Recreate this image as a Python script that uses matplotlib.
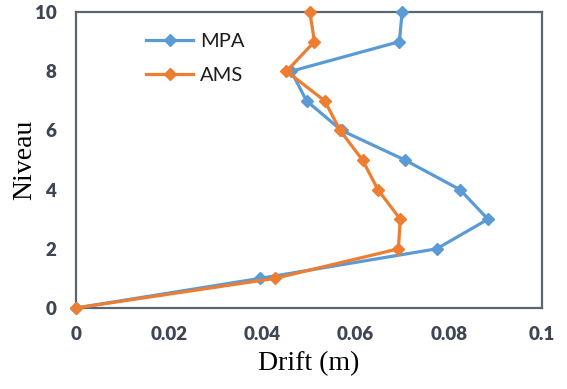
import matplotlib
matplotlib.use("Agg")
import matplotlib.pyplot as plt

# Storey levels and inter-storey drift (m) for the two analysis methods
levels = [0, 1, 2, 3, 4, 5, 6, 7, 8, 9, 10]
drift_mpa = [0.0, 0.0395, 0.0774, 0.0884, 0.0824, 0.0706, 0.0570, 0.0495, 0.0462, 0.0694, 0.0700]
drift_ams = [0.0, 0.0427, 0.0692, 0.0696, 0.0648, 0.0615, 0.0567, 0.0534, 0.0452, 0.0512, 0.0502]

x_ticks = [0, 0.02, 0.04, 0.06, 0.08, 0.1]
x_tick_labels = ["0", "0.02", "0.04", "0.06", "0.08", "0.1"]
y_ticks = [0, 2, 4, 6, 8, 10]

blue = "#5B9BD5"
orange = "#ED7D31"
frame_col = "#5d6571"
tick_col = "#3e4656"

fig = plt.figure(figsize=(5.67, 3.89), dpi=100)
ax = fig.add_axes([0.1335, 0.2082, 0.8225, 0.7608])

ax.plot(drift_mpa, levels, color=blue, lw=2.3, marker="D", ms=6.5,
        label="MPA", clip_on=False, zorder=3)
ax.plot(drift_ams, levels, color=orange, lw=2.3, marker="D", ms=6.5,
        label="AMS", clip_on=False, zorder=4)

ax.set_xlim(0, 0.1)
ax.set_ylim(0, 10)
ax.set_xticks(x_ticks)
ax.set_xticklabels(x_tick_labels)
ax.set_yticks(y_ticks)

for side in ax.spines.values():
    side.set_color(frame_col)
    side.set_linewidth(1.6)

ax.tick_params(axis="both", length=0, colors=tick_col, labelsize=13.5)
ax.tick_params(axis="x", pad=13)
ax.tick_params(axis="y", pad=14)
for lab in ax.get_xticklabels() + ax.get_yticklabels():
    lab.set_fontfamily("Lato")
    lab.set_fontweight("heavy")

ax.set_xlabel("Drift (m)", family="Liberation Serif", fontsize=20, color="black", labelpad=6)
ax.set_ylabel("Niveau", family="Liberation Serif", fontsize=20, color="black", labelpad=-2)

leg = ax.legend(loc="upper left", bbox_to_anchor=(0.112, 0.99), frameon=False,
                prop={"family": "Lato", "size": 14.5}, handlelength=2.35,
                handletextpad=0.32, labelspacing=0.85)
for t in leg.get_texts():
    t.set_color("#1e1e1e")

fig.savefig("out.png", dpi=100)
